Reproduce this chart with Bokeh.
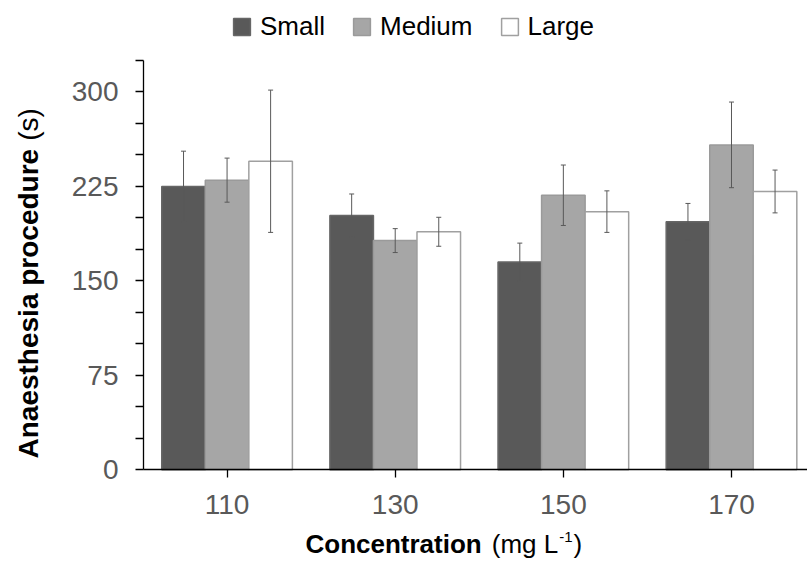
from math import pi
from bokeh.plotting import figure
from bokeh.models import (ColumnDataSource, Range1d, FixedTicker, Whisker, TeeHead,
                          Label, Legend, LegendItem)
from bokeh.embed import file_html
from bokeh.resources import INLINE

# ---------------- data ----------------
concentrations = ["110", "130", "150", "170"]
size_names = ["Small", "Medium", "Large"]
small_mean = [225, 202, 165, 197]
small_err = [28, 17, 15, 14.5]
medium_mean = [230, 182, 218, 258]
medium_err = [17.5, 9.5, 24, 34]
large_mean = [245, 189, 205, 221]
large_err = [56.5, 11.5, 16.5, 17]
y_major_ticks = [0, 75, 150, 225, 300]
y_minor_ticks = [25, 50, 100, 125, 175, 200, 250, 275, 325]

# ---------------- style / layout ----------------
FONT = "Liberation Sans"
fills = ["#595959", "#a6a6a6", "#ffffff"]
edges = ["#666666", "#9a9a9a", "#a0a0a0"]
err_color = "#595959"
bar_w = 0.259
offsets = [-bar_w, 0.0, bar_w]

W, H = 807, 561
X_LO, X_HI = -0.497, 3.452      # data extent of the plotting area
Y_LO, Y_HI = 0, 325
AX_LEFT_PX, AX_BOTTOM_PX, AX_TOP_PX = 143, 469.3, 60
xs_per_px = (X_HI - X_LO) / (W - AX_LEFT_PX)
ys_per_px = (Y_HI - Y_LO) / (AX_BOTTOM_PX - AX_TOP_PX)

# the frame covers the whole canvas; axes are pinned at fixed data locations
p = figure(width=W, height=H, output_backend="svg", toolbar_location=None,
           x_range=Range1d(X_LO - AX_LEFT_PX * xs_per_px, X_HI),
           y_range=Range1d(Y_LO - (H - AX_BOTTOM_PX) * ys_per_px,
                           Y_HI + AX_TOP_PX * ys_per_px),
           min_border=0)
p.outline_line_color = None
p.xgrid.visible = False
p.ygrid.visible = False
p.background_fill_color = "white"

means = [small_mean, medium_mean, large_mean]
errs = [small_err, medium_err, large_err]
idx = list(range(len(concentrations)))

items = []
for k in range(3):
    xs = [i + offsets[k] for i in idx]
    src = ColumnDataSource(dict(x=xs, top=means[k],
                                upper=[m + e for m, e in zip(means[k], errs[k])],
                                lower=[m - e for m, e in zip(means[k], errs[k])]))
    r = p.vbar(x="x", top="top", bottom=0, width=bar_w, source=src, fill_color=fills[k],
               line_color=edges[k], line_width=1.5)
    items.append(LegendItem(label=size_names[k], renderers=[r]))
    p.add_layout(Whisker(base="x", upper="upper", lower="lower", source=src,
                         level="annotation",
                         line_color=err_color, line_width=1,
                         upper_head=TeeHead(size=5, line_color=err_color, line_width=1),
                         lower_head=TeeHead(size=5, line_color=err_color, line_width=1)))

legend = Legend(items=items, orientation="horizontal", location=(231, 519),
                glyph_width=21, glyph_height=21, label_text_font=FONT,
                label_text_font_size="26px", label_text_color="black",
                spacing=26, label_standoff=8, padding=0, margin=0,
                border_line_color=None, background_fill_alpha=0)
p.add_layout(legend, "center")

# axes
ax = p.xaxis[0]
ax.fixed_location = Y_LO
ax.bounds = (X_LO, X_HI)
ax.ticker = FixedTicker(ticks=idx)
ax.major_label_overrides = {i: c for i, c in zip(idx, concentrations)}
ax.minor_tick_line_color = None
ax.major_tick_in = 0
ax.major_tick_out = 8
ax.axis_line_width = 1.3
ax.axis_line_color = "black"
ax.major_tick_line_color = "black"
ax.major_tick_line_width = 1.3
ax.major_label_text_font = FONT
ax.major_label_text_font_size = "28px"
ax.major_label_text_color = "#595959"
ax.major_label_standoff = 17

ay = p.yaxis[0]
ay.fixed_location = X_LO
ay.bounds = (Y_LO, Y_HI)
ay.ticker = FixedTicker(ticks=y_major_ticks, minor_ticks=y_minor_ticks)
ay.major_tick_in = 0
ay.major_tick_out = 8
ay.minor_tick_in = 0
ay.minor_tick_out = 8
ay.axis_line_width = 1.3
ay.axis_line_color = "black"
ay.major_tick_line_color = "black"
ay.minor_tick_line_color = "black"
ay.major_tick_line_width = 1.3
ay.minor_tick_line_width = 1.3
ay.major_label_text_font = FONT
ay.major_label_text_font_size = "28px"
ay.major_label_text_color = "#595959"
ay.major_label_standoff = 17

# text width helper (Arial metrics, per 1000 em)
REG = {" ": 278, "(": 333, ")": 333, "m": 833, "g": 556, "L": 556, "s": 500,
       "-": 333, "1": 556}
BOLD = {"A": 722, "n": 611, "a": 556, "e": 556, "s": 556, "t": 333, "h": 611,
        "i": 278, " ": 278, "p": 611, "r": 389, "o": 611, "c": 556, "d": 611,
        "u": 611, "C": 722}


def tw(text, size, bold=False):
    table = BOLD if bold else REG
    return sum(table.get(ch, 556) for ch in text) * size / 1000.0


def add_text(x, y, text, size, bold=False, angle=0.0):
    p.add_layout(Label(x=x, y=y, x_units="canvas", y_units="canvas", text=text,
                       angle=angle, text_font=FONT, text_font_size=f"{size}px",
                       text_font_style="bold" if bold else "normal",
                       text_baseline="alphabetic", text_align="left",
                       text_color="black"))


# x title: Concentration (mg L-1)
TS = 26
base = 543
x = 305
add_text(x, base, "Concentration", TS, True)
x += tw("Concentration", TS, True) + 10
add_text(x, base, "(mg L", TS)
x += tw("(mg L", TS) + 1
add_text(x, base - 7, "-1", 15)
x += tw("-1", 15) + 1
add_text(x, base, ")", TS)

# y title (rotated): Anaesthesia procedure (s)
YS = 28
xb = 28
y = 458
add_text(xb, y, "Anaesthesia procedure", YS, True, angle=pi / 2)
y -= tw("Anaesthesia procedure", YS, True) + 8
add_text(xb, y, "(s)", YS, False, angle=pi / 2)

open("out.html", "w").write(file_html(p, INLINE))
